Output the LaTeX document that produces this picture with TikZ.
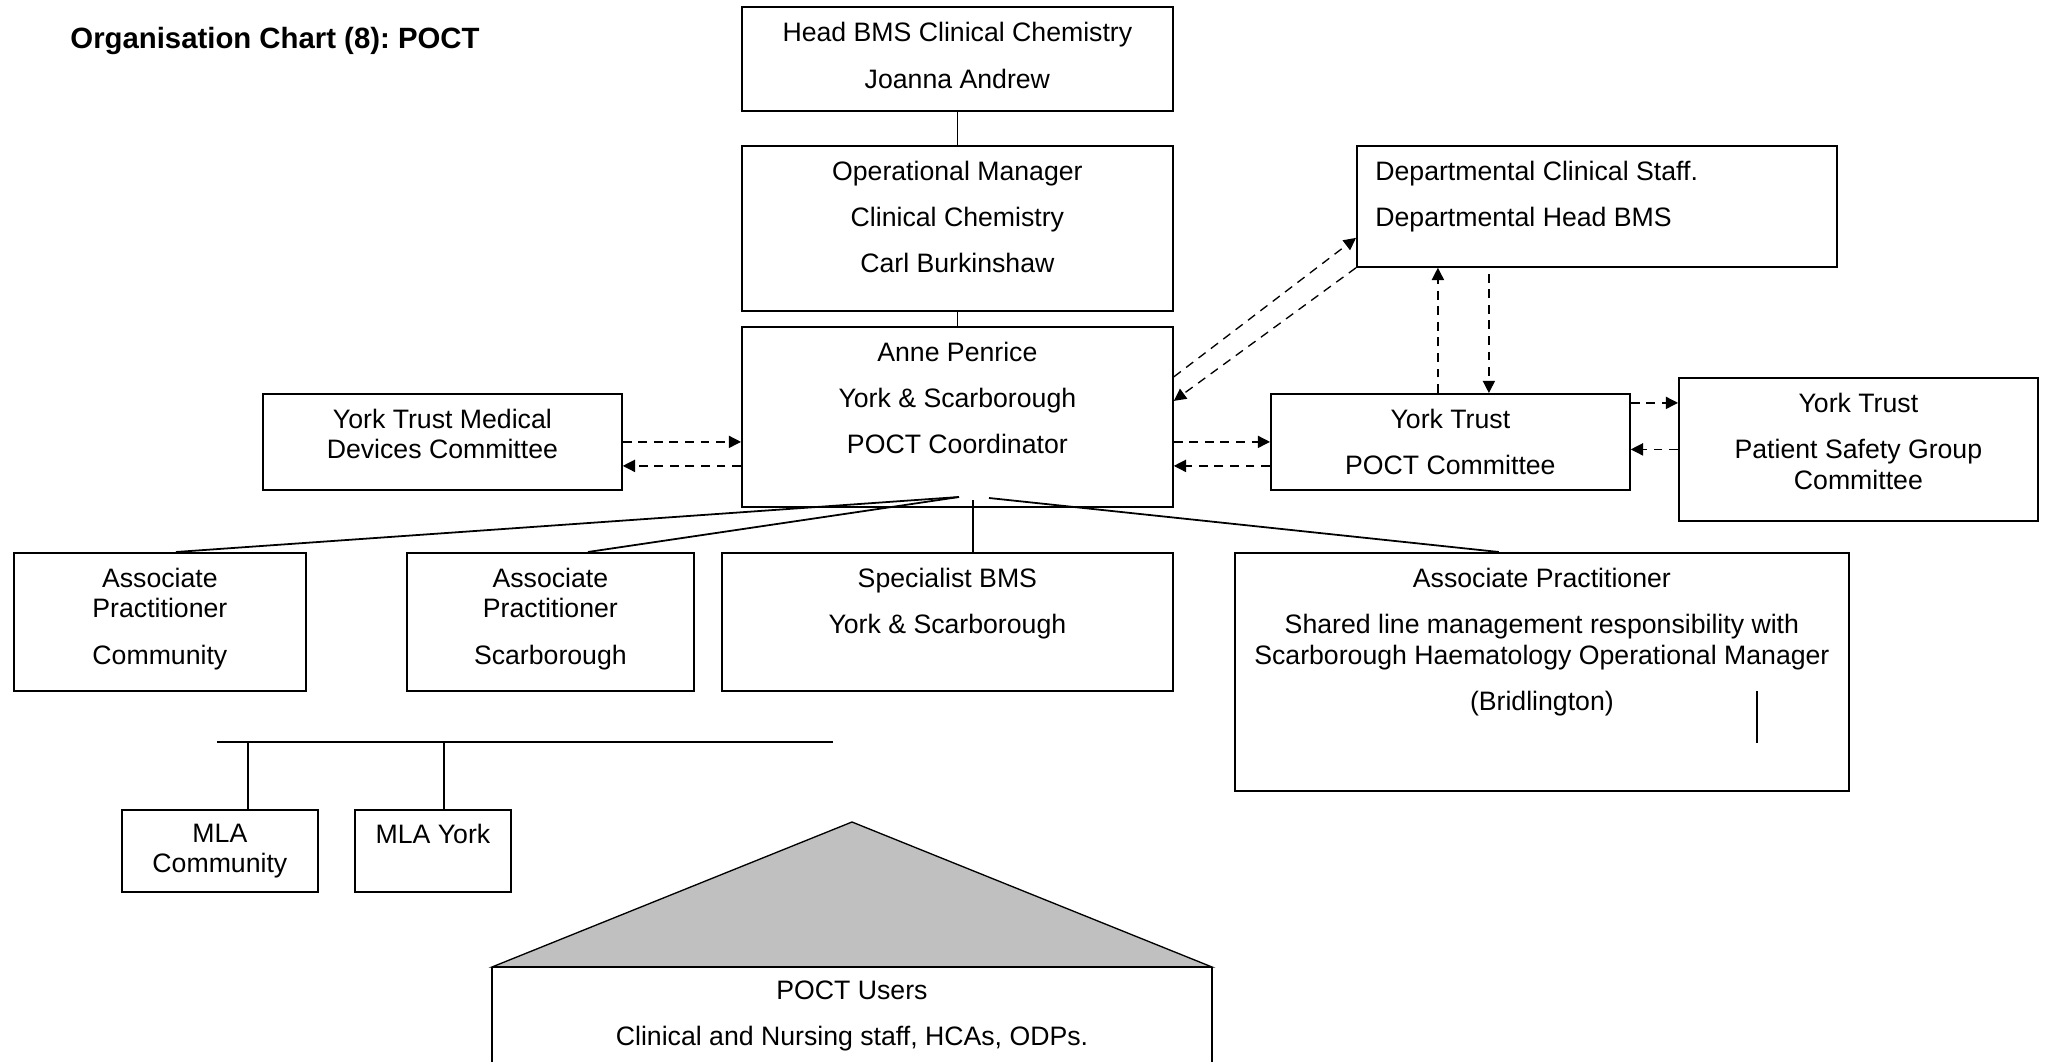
\documentclass[tikz,border=0pt]{standalone}
\usepackage{fontspec}
\setmainfont{Liberation Sans}
\usetikzlibrary{positioning,calc,arrows.meta}
\frenchspacing

\definecolor{roofgray}{RGB}{192,192,192}
\newcommand{\unitpx}{0.45pt}

\tikzset{
	box/.style={draw, line width=0.8pt, inner sep=0pt, anchor=north west},
	txt/.style={inner sep=0pt, align=center, font=\fontsize{12pt}{13.8pt}\selectfont},
	link/.style={line width=0.5pt},
	branch/.style={line width=0.8pt},
	flow/.style={line width=0.6pt, dash pattern=on 4pt off 3pt, -{Triangle[length=5.5pt,width=5.5pt]}}
}

\begin{document}
\begin{tikzpicture}[x=\unitpx, y=-\unitpx]
	\useasboundingbox (0,0) rectangle (2045,1062);

	% title
	\node[txt, font=\fontsize{13.2pt}{15pt}\selectfont\bfseries, anchor=base west] (title) at (70,49) {Organisation Chart (8): POCT};

	% top line of management
	\node[box, minimum width=431*\unitpx, minimum height=103.5*\unitpx] (head) at (741,6.5) {};
	\node[txt, below=7pt of head.north] (headtxt) {Head BMS Clinical Chemistry\\[7pt]Joanna Andrew};
	\node[box, minimum width=431*\unitpx, minimum height=165*\unitpx] (op) at (741,145) {};
	\node[txt, below=7pt of op.north] (optxt) {Operational Manager\\[7pt]Clinical Chemistry\\[7pt]Carl Burkinshaw};
	\node[box, minimum width=431*\unitpx, minimum height=180*\unitpx] (anne) at (741,326) {};
	\node[txt, below=7pt of anne.north] (annetxt) {Anne Penrice\\[7pt]York \& Scarborough\\[7pt]POCT Coordinator};

	% committees
	\node[box, minimum width=480*\unitpx, minimum height=121*\unitpx] (dept) at (1356,145) {};
	\node[txt, align=left, below right=7pt and 8.5pt of dept.north west] (depttxt) {Departmental Clinical Staff.\\[7pt]Departmental Head BMS};
	\node[box, minimum width=359*\unitpx, minimum height=96*\unitpx] (ytmd) at (262,393) {};
	\node[txt, below=7pt of ytmd.north] (ytmdtxt) {York Trust Medical\\Devices Committee};
	\node[box, minimum width=359*\unitpx, minimum height=96*\unitpx] (ypoct) at (1270,393) {};
	\node[txt, below=7pt of ypoct.north] (ypocttxt) {York Trust\\[7pt]POCT Committee};
	\node[box, minimum width=359*\unitpx, minimum height=143*\unitpx] (ps) at (1678,377) {};
	\node[txt, below=7pt of ps.north] (pstxt) {York Trust\\[7pt]Patient Safety Group\\Committee};

	% staff
	\node[box, minimum width=292*\unitpx, minimum height=138*\unitpx] (apcomm) at (13,552) {};
	\node[txt, below=7pt of apcomm.north] (apcommtxt) {Associate\\Practitioner\\[7pt]Community};
	\node[box, minimum width=287*\unitpx, minimum height=138*\unitpx] (apscar) at (406,552) {};
	\node[txt, below=7pt of apscar.north] (apscartxt) {Associate\\Practitioner\\[7pt]Scarborough};
	\node[box, minimum width=451*\unitpx, minimum height=138*\unitpx] (spec) at (721,552) {};
	\node[txt, below=7pt of spec.north] (spectxt) {Specialist BMS\\[7pt]York \& Scarborough};
	\node[box, minimum width=614*\unitpx, minimum height=238*\unitpx] (apbrid) at (1234,552) {};
	\node[txt, below=7pt of apbrid.north] (apbridtxt) {Associate Practitioner\\[7pt]Shared line management responsibility with\\Scarborough Haematology Operational Manager\\[7pt](Bridlington)};
	\draw[link] (1757,691) -- (1757,743);

	% MLAs
	\node[box, minimum width=196*\unitpx, minimum height=82*\unitpx] (mlacomm) at (121,809) {};
	\node[txt, below=6.5pt of mlacomm.north] (mlacommtxt) {MLA\\Community};
	\node[box, minimum width=156*\unitpx, minimum height=82*\unitpx] (mlayork) at (354,809) {};
	\node[txt, below=6.5pt of mlayork.north] (mlayorktxt) {MLA York};

	% reporting lines
	\draw[link] (head) -- (op);
	\draw[link] (op) -- (anne);
	\coordinate (fork) at (959,497);
	\coordinate (forkmid) at (973,500);
	\coordinate (forkright) at (989,498);
	\draw[branch] (fork) -- ($(apcomm.north)+(16,0)$);
	\draw[branch] (fork) -- ($(apscar.north)+(37.5,0)$);
	\draw[link] (forkmid) -- (forkmid |- spec.north);
	\draw[branch] (forkright) -- ($(apbrid.north)+(-43,0)$);

	\coordinate (barleft) at (217,742);
	\coordinate (barright) at (833,742);
	\draw[branch] (barleft) -- (barright);
	\coordinate (mlaa) at (248,742);
	\coordinate (mlab) at (444,742);
	\draw[link] (mlaa) -- (mlaa |- mlacomm.north);
	\draw[link] (mlab) -- (mlab |- mlayork.north);

	% dashed links
	\coordinate (lowrow) at ($(ytmd.east)+(0,24)$);
	\draw[flow] (ytmd.east) -- (ytmd.east -| anne.west);
	\draw[flow] (anne.west |- lowrow) -- (lowrow);
	\draw[flow] (anne.east |- ypoct.west) -- (ypoct.west);
	\draw[flow] ($(ypoct.west)+(0,24)$) -- (anne.east |- lowrow);

	\draw[flow] ($(anne.east)+(0,-40)$) -- ($(dept.west)+(0,31.5)$);
	\draw[flow] (dept.south west) -- ($(anne.east)+(0,-16)$);

	\coordinate (vup) at ($(ypoct.north)+(-12.5,0)$);
	\coordinate (vdown) at ($(ypoct.north)+(38.5,0)$);
	\draw[flow] (vup) -- (vup |- dept.south);
	\draw[flow] ($(vdown |- dept.south)+(0,6)$) -- (vdown);

	\coordinate (psup) at ($(ypoct.east)+(0,-39)$);
	\draw[flow] (psup) -- (psup -| ps.west);
	\draw[flow] (ps.west) -- (ps.west -| ypoct.east);

	% users
	\filldraw[fill=roofgray, line width=0.6pt] (492,967) -- (852,822) -- (1212,967) -- cycle;
	\draw[line width=1pt] (492,967) -- (1212,967);
	\draw[line width=0.6pt] (492,967) -- (492,1062) (1212,967) -- (1212,1062);
	\node[txt, anchor=north] (users) at (852,980.5) {POCT Users\\[7pt]Clinical and Nursing staff, HCAs, ODPs.};

\end{tikzpicture}
\end{document}
